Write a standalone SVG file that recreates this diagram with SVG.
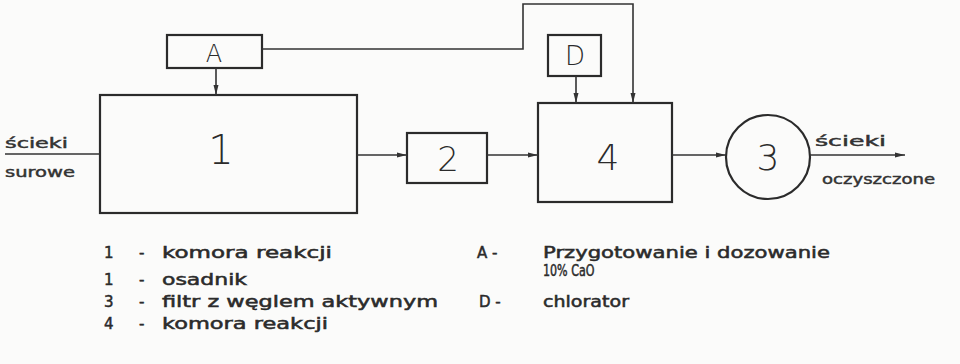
<svg xmlns="http://www.w3.org/2000/svg" width="960" height="364" viewBox="0 0 960 364">
  <style>
    .box { fill: none; stroke: #2b2b2b; stroke-width: 2.2; }
    .wire { fill: none; stroke: #333; stroke-width: 1.6; }
    .num { font-family: "DejaVu Sans", sans-serif; font-weight: 300; fill: #2b2b2b; text-anchor: middle; }
    .lbl { font-family: "DejaVu Sans", sans-serif; font-size: 14px; fill: #333; stroke: #333; stroke-width: 0.45; }
    .leg { font-family: "DejaVu Sans", sans-serif; font-size: 15px; fill: #2b2b2b; stroke: #2b2b2b; stroke-width: 0.5; }
  </style>
  <defs>
    <marker id="arr" viewBox="0 0 10 6" refX="10" refY="3" markerWidth="10" markerHeight="6" markerUnits="userSpaceOnUse" orient="auto">
      <path d="M0,0.5 L10,3 L0,5.5 Z" fill="#333"/>
    </marker>
  </defs>
  <rect width="960" height="364" fill="#fbfbfa"/>

  <!-- process units -->
  <g id="node-A">
    <rect class="box" x="167" y="35" width="95" height="33"/>
    <text class="num" x="214" y="62" font-size="24">A</text>
  </g>
  <g id="node-1">
    <rect class="box" x="100" y="95" width="257" height="118"/>
    <text class="num" x="221" y="164" font-size="40">1</text>
  </g>
  <g id="node-2">
    <rect class="box" x="407" y="133" width="80" height="50"/>
    <text class="num" x="448" y="171" font-size="34">2</text>
  </g>
  <g id="node-D">
    <rect class="box" x="548" y="35" width="53" height="41"/>
    <text class="num" x="575" y="65" font-size="26">D</text>
  </g>
  <g id="node-4">
    <rect class="box" x="538" y="103" width="134" height="99"/>
    <text class="num" x="608" y="170" font-size="36">4</text>
  </g>
  <g id="node-3">
    <circle class="box" cx="768" cy="157" r="42"/>
    <text class="num" x="768" y="170" font-size="36">3</text>
  </g>

  <!-- flow lines -->
  <g id="connectors">
    <path class="wire" d="M5,154 H100"/>
    <path class="wire" d="M216,68 V95" marker-end="url(#arr)"/>
    <path class="wire" d="M262,49 H523 V4 H633 V103" marker-end="url(#arr)"/>
    <path class="wire" d="M576,76 V103" marker-end="url(#arr)"/>
    <path class="wire" d="M357,155 H407" marker-end="url(#arr)"/>
    <path class="wire" d="M487,155 H538" marker-end="url(#arr)"/>
    <path class="wire" d="M672,155 H726" marker-end="url(#arr)"/>
    <path class="wire" d="M810,155 H905" marker-end="url(#arr)"/>
  </g>

  <!-- stream labels -->
  <g id="stream-labels">
    <text class="lbl" x="5" y="148" textLength="63" lengthAdjust="spacingAndGlyphs">ścieki</text>
    <text class="lbl" x="5" y="177" textLength="70" lengthAdjust="spacingAndGlyphs">surowe</text>
    <text class="lbl" x="815" y="146" textLength="71" lengthAdjust="spacingAndGlyphs">ścieki</text>
    <text class="lbl" x="822" y="184" textLength="113" lengthAdjust="spacingAndGlyphs">oczyszczone</text>
  </g>

  <!-- legend -->
  <g id="legend">
    <text class="leg" x="104" y="258">1</text>
    <text class="leg" x="139" y="258">-</text>
    <text class="leg" x="162" y="258" textLength="170" lengthAdjust="spacingAndGlyphs">komora reakcji</text>
    <text class="leg" x="104" y="285">1</text>
    <text class="leg" x="139" y="285">-</text>
    <text class="leg" x="162" y="285" textLength="85" lengthAdjust="spacingAndGlyphs">osadnik</text>
    <text class="leg" x="104" y="307">3</text>
    <text class="leg" x="139" y="307">-</text>
    <text class="leg" x="162" y="307" textLength="276" lengthAdjust="spacingAndGlyphs">filtr z węglem aktywnym</text>
    <text class="leg" x="104" y="329">4</text>
    <text class="leg" x="139" y="329">-</text>
    <text class="leg" x="162" y="329" textLength="166" lengthAdjust="spacingAndGlyphs">komora reakcji</text>
    <text class="leg" x="477" y="258">A -</text>
    <text class="leg" x="543" y="258" textLength="287" lengthAdjust="spacingAndGlyphs">Przygotowanie i dozowanie</text>
    <text class="leg" transform="translate(543,276) scale(0.74,1)" x="0" y="0">10% CaO</text>
    <text class="leg" x="479" y="307">D -</text>
    <text class="leg" x="543" y="307" textLength="86" lengthAdjust="spacingAndGlyphs">chlorator</text>
  </g>
</svg>
